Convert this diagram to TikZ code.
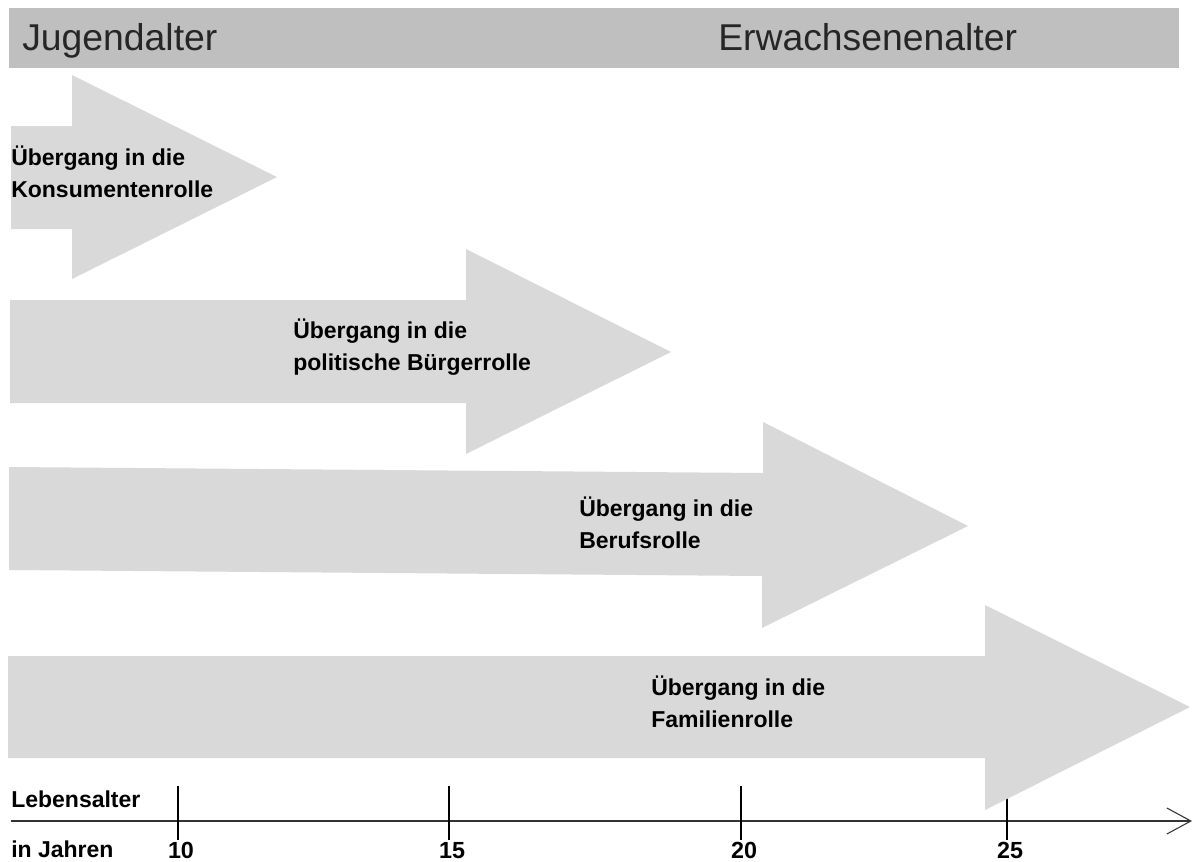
\documentclass[tikz,border=0pt]{standalone}
\usepackage{fontspec}
\setmainfont{Liberation Sans}
\usetikzlibrary{arrows.meta}
\definecolor{bargray}{HTML}{BFBFBF}
\definecolor{arrowgray}{HTML}{D9D9D9}
\definecolor{headtext}{HTML}{262626}
\begin{document}
\begin{tikzpicture}[x=0.75pt,y=-0.75pt,
  shaft/.style={fill=arrowgray},
  lab/.style={font=\fontsize{17.25}{24}\selectfont\bfseries, anchor=base west, inner sep=0pt, align=left},
  hdr/.style={font=\fontsize{28}{32}\selectfont, text=headtext, anchor=base west, inner sep=0pt},
  num/.style={font=\fontsize{17.5}{24}\selectfont\bfseries, anchor=base, inner sep=0pt},
  tick/.style={line width=1.1pt, black},
  axis/.style={line width=0.8pt, black!80, -{Straight Barb[length=18pt,width=19.5pt,line width=0.8pt]}}
]
\useasboundingbox (0,0) rectangle (1193,861);
% header bar
\fill[bargray] (9,8) rectangle (1179,68);
\node[hdr] (jug) at (22,50) {Jugendalter};
\node[hdr] (erw) at (718,50) {Erwachsenenalter};
% axis
\coordinate (ax0) at (11,821);
\coordinate (ax1) at (1192,821);
\draw[axis] (ax0) -- (ax1);
\foreach \x/\n in {178/t10,449/t15,741/t20,1007/t25}{
  \coordinate (\n a) at (\x,786);
  \coordinate (\n b) at (\x,840);
  \draw[tick] (\n a) -- (\n b);
}
% arrows
\fill[shaft] (11,126) -- (72,126) -- (72,75) -- (277,177) -- (72,279) -- (72,229) -- (11,229) -- cycle;
\fill[shaft] (10,300) -- (466,300) -- (466,249) -- (671,352) -- (466,454) -- (466,403) -- (10,403) -- cycle;
\fill[shaft] (9,467) -- (763,473) -- (763,422) -- (968,526) -- (762,628) -- (762,576) -- (9,570) -- cycle;
\fill[shaft] (8,656) -- (985,656) -- (985,605) -- (1190,707) -- (985,810) -- (985,758) -- (8,758) -- cycle;
% labels (anchor = baseline of the last line)
\node[lab] (l1) at (11,197) {Übergang in die\\Konsumentenrolle};
\node[lab] (l2) at (293,370) {Übergang in die\\politische Bürgerrolle};
\node[lab] (l3) at (579,548) {Übergang in die\\Berufsrolle};
\node[lab] (l4) at (651,727) {Übergang in die\\Familienrolle};
% axis labels
\node[lab] (leb) at (11,807) {Lebensalter};
\node[lab] (jahr) at (11,857) {in Jahren};
\node[num] (n10) at (181,858) {10};
\node[num] (n15) at (452,858) {15};
\node[num] (n20) at (744,858) {20};
\node[num] (n25) at (1010,858) {25};
\end{tikzpicture}
\end{document}
